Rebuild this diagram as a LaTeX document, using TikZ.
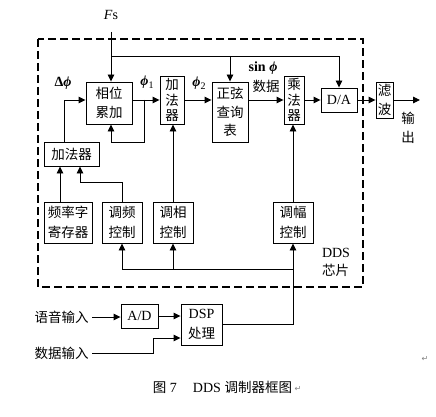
\documentclass[tikz,border=0pt]{standalone}
\usepackage{fontspec}
\setmainfont{Liberation Serif}
\newfontfamily\cjk{Noto Sans CJK SC}
\newfontfamily\dejavu{DejaVu Sans}
\usetikzlibrary{arrows.meta}
\newcommand\myzh{\cjk\fontsize{13.5}{18.5}\selectfont}
\newcommand\myzhv{\cjk\fontsize{13.5}{15.5}\selectfont}
\newcommand\mylat{\rmfamily\fontsize{14}{18}\selectfont}
\begin{document}
\begin{tikzpicture}[x=1pt,y=-1pt,
  box/.style={draw, line width=0.9pt, inner sep=0pt, align=center, font=\myzh},
  vbox/.style={font=\myzhv},
  lbl/.style={inner sep=0pt, font=\mylat},
  ln/.style={line width=0.9pt},
  arr/.style={line width=0.9pt, -{Triangle[length=7pt,width=6.5pt]}}]
\useasboundingbox (0,0) rectangle (436,417);
% dashed chip border
\draw[line width=2pt, dash pattern=on 8pt off 4pt] (38,39) rectangle (363,287);
% blocks
\node[box, minimum width=46, minimum height=42] (acc) at (109,103) {相位\\累加};
\node[box, vbox, minimum width=24, minimum height=48] (add2) at (172,100) {加\\法\\器};
\node[box, minimum width=36, minimum height=60] (sine) at (230,112) {正弦\\查询\\表};
\node[box, vbox, minimum width=20, minimum height=48] (mult) at (294,100) {乘\\法\\器};
\node[box, font=\mylat, minimum width=36, minimum height=24] (da) at (339,100) {D/A};
\node[box, font=\cjk\fontsize{13.5}{19}\selectfont, minimum width=17, minimum height=36] (filt) at (384.5,100) {滤\\波};
\node[box, minimum width=55, minimum height=24] (add1) at (71.5,154) {加法器};
\node[box, font=\cjk\fontsize{13.5}{20}\selectfont, minimum width=48, minimum height=41] (freq) at (68,222.5) {频率字\\寄存器};
\node[box, font=\cjk\fontsize{13.5}{20}\selectfont, minimum width=40, minimum height=41] (ctlf) at (122,222.5) {调频\\控制};
\node[box, font=\cjk\fontsize{13.5}{20}\selectfont, minimum width=40, minimum height=41] (ctlp) at (173,222.5) {调相\\控制};
\node[box, font=\cjk\fontsize{13.5}{20}\selectfont, minimum width=40, minimum height=41] (ctla) at (293,222.5) {调幅\\控制};
\node[box, font=\mylat, minimum width=37, minimum height=24] (ad) at (139.5,316) {A/D};
\node[box, font=\rmfamily\fontsize{14}{20}\selectfont, minimum width=41, minimum height=41] (dsp) at (201.5,324.5) {DSP\\{\cjk\fontsize{13.5}{20}\selectfont 处理}};
% labels
\node[lbl] (fs) at (111,15) {\textit{F}s};
\node[lbl] (dphi) at (63,83) {\textbf{Δ\textit{ϕ}}};
\node[lbl] (phi1) at (147,82) {\textbf{\textit{ϕ}}\raisebox{-3pt}{\fontsize{10}{12}\selectfont 1}};
\node[lbl] (phi2) at (199,83) {\textbf{\textit{ϕ}}\raisebox{-3pt}{\fontsize{10}{12}\selectfont 2}};
\node[lbl] (sinl) at (263,68) {\textbf{sin \textit{ϕ}}};
\node[lbl, font=\myzh] (datl) at (266,86) {数据};
\node[lbl, font=\cjk\fontsize{13.5}{19}\selectfont, align=center] (outl) at (408,128) {输\\出};
\node[lbl, align=left, font=\rmfamily\fontsize{14}{18}\selectfont] (chip) at (336,262) {DDS\\{\cjk\fontsize{13.5}{18}\selectfont 芯片}};
\node[font=\myzh] (voice) at (61.5,317) {语音输入};
\node[font=\myzh] (data) at (61.5,353) {数据输入};
\node[lbl, font=\mylat] (cap) at (222.5,387) {{\cjk\fontsize{13.5}{18}\selectfont 图} 7\hspace{16pt}DDS {\cjk\fontsize{13.5}{18}\selectfont 调制器框图}};
\node[lbl, text=gray, font=\dejavu\fontsize{8}{8}\selectfont] (pm1) at (298,389) {↵};
\node[lbl, text=gray, font=\dejavu\fontsize{8}{8}\selectfont] (pm2) at (425,359) {↵};
% coordinates
\coordinate (fstop) at (111,32);
\coordinate (j1) at (111,56);
\coordinate (fb) at (144,100);
\coordinate (out) at (420,100);
\coordinate (fq) at ([xshift=-8]freq.north);
\coordinate (a1l) at ([xshift=-7.5]add1.north);
\coordinate (a1r) at ([xshift=8.5]add1.south);
\coordinate (accb) at ([xshift=2]acc.south);
\coordinate (jb) at (293,269);
\coordinate (dk) at (153,338);
% connectors
\draw[arr] (fstop) -- (fstop |- acc.north);
\draw[arr] (j1) -| (da.north);
\draw[arr] (j1 -| sine.north) -- (sine.north);
\draw[arr] (acc.east |- add2.west) -- (add2.west);
\draw[arr] (a1l) |- (acc.west |- add2.west);
\draw[arr] (fb) -- ++(0,42) -| (accb);
\draw[arr] (add2.east) -- (add2.east -| sine.west);
\draw[arr] (sine.east |- mult.west) -- (mult.west);
\draw[arr] (mult.east) -- (da.west);
\draw[arr] (da.east) -- (filt.west);
\draw[arr] (filt.east) -- (out);
\draw[arr] (fq) -- (fq |- add1.south);
\draw[arr] (ctlf.north) -- ++(0,-19) -| (a1r);
\draw[arr] (ctlp.north) -- (ctlp.north |- add2.south);
\draw[arr] (ctla.north) -- (ctla.north |- mult.south);
\draw[arr] (jb) -| (ctlf.south);
\draw[arr] (ctlp.south |- jb) -- (ctlp.south);
\draw[arr] (dsp.east) -| (ctla.south);
\draw[arr] (voice.east) -- (voice.east -| ad.west);
\draw[arr] (ad.east) -- (ad.east -| dsp.west);
\draw[arr] (data.east) -| (dk) -- (dk -| dsp.west);
\end{tikzpicture}
\end{document}
